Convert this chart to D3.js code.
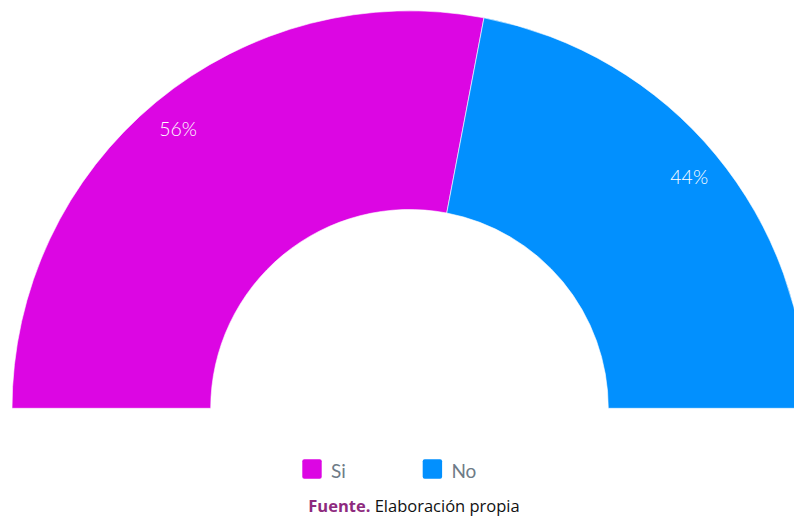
<!DOCTYPE html>
<html>
<head>
<meta charset="utf-8">
<script src="https://cdn.jsdelivr.net/npm/d3@7"></script>
<style>
  html, body { margin: 0; padding: 0; background: #ffffff; }
  svg { display: block; }
</style>
</head>
<body>
<svg id="chart" width="794" height="516"></svg>
<script>
const categories = ["Si", "No"];
const values = [56, 44];
const labels = ["56%", "44%"];
const colors = ["#dc06e3", "#0290fe"];
const sourceBold = "Fuente.";
const sourceText = " Elaboración propia";

const W = 794, H = 516;
const cx = 409.5, cy = 408.3;
const outerR = 397.5, innerR = 198.8;
const labelR = 363;

const svg = d3.select("#chart");
const g = svg.append("g").attr("transform", `translate(${cx},${cy})`);

const pie = d3.pie().sort(null).value(d => d)
  .startAngle(-Math.PI / 2).endAngle(Math.PI / 2);
const arcs = pie(values);
const arc = d3.arc().innerRadius(innerR).outerRadius(outerR);
const labelArc = d3.arc().innerRadius(labelR).outerRadius(labelR);

g.selectAll("path.slice").data(arcs).enter().append("path")
  .attr("class", "slice")
  .attr("d", arc)
  .attr("fill", (d, i) => colors[i])
  .attr("stroke", "#ffffff")
  .attr("stroke-width", 0.6);

g.selectAll("text.lbl").data(arcs).enter().append("text")
  .attr("class", "lbl")
  .attr("transform", d => `translate(${labelArc.centroid(d)})`)
  .attr("text-anchor", "middle")
  .attr("dominant-baseline", "central")
  .attr("font-family", "Lato, sans-serif")
  .attr("font-weight", 300)
  .attr("font-size", 19.5)
  .attr("fill", "#ffffff")
  .text((d, i) => labels[i]);

// legend
const legendX = [302.3, 422.7];
const lg = svg.append("g");
categories.forEach((c, i) => {
  lg.append("rect")
    .attr("x", legendX[i]).attr("y", 459.3)
    .attr("width", 19.4).attr("height", 19.4)
    .attr("rx", 2)
    .attr("fill", colors[i]);
  lg.append("text")
    .attr("x", legendX[i] + 28.7).attr("y", 478)
    .attr("font-family", "Lato, sans-serif")
    .attr("font-size", 19)
    .attr("fill", "#6e7b87")
    .text(c);
});

// source
const src = svg.append("text")
  .attr("x", 414).attr("y", 511.5)
  .attr("text-anchor", "middle")
  .attr("font-family", "'Open Sans', sans-serif")
  .attr("font-size", 16.5)
  .attr("fill", "#111111");
src.append("tspan").attr("font-weight", 700).attr("fill", "#8e2a7e").text(sourceBold);
src.append("tspan").text(sourceText);
</script>
</body>
</html>
